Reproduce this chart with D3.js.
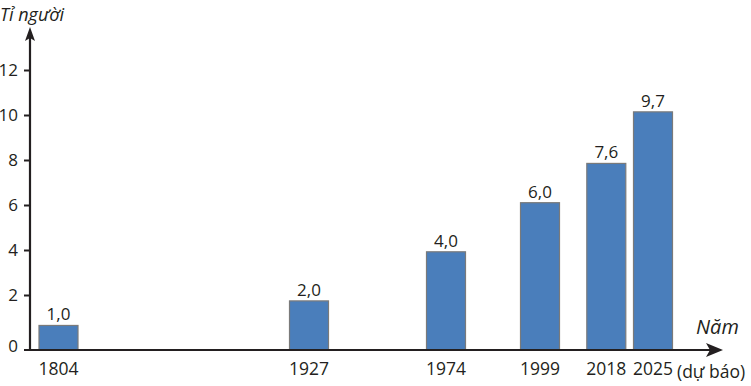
<!DOCTYPE html>
<html>
<head>
<meta charset="utf-8">
<script src="https://cdn.jsdelivr.net/npm/d3@7"></script>
<style>
  body { margin: 0; background: #fff; }
  text { font-family: "Open Sans", "Noto Sans", sans-serif; fill: #231f20; }
</style>
</head>
<body>
<div id="chart"></div>
<script>
// ---------------------- data ----------------------
var years = [1804, 1927, 1974, 1999, 2018, 2025];
var population = [1.0, 2.0, 4.0, 6.0, 7.6, 9.7];   // ti nguoi
var valueLabels = ["1,0", "2,0", "4,0", "6,0", "7,6", "9,7"];
var yTicks = [0, 2, 4, 6, 8, 10, 12];

var W = 751, H = 386;
var axisColor = "#231f20";

var svg = d3.select("#chart")
     .append("svg")
     .attr("width", W)
     .attr("height", H);

// years are not placed proportionally in the original, so piecewise scale
var x = d3.scaleLinear()
     .domain(years)
     .range([58.5, 309, 446, 540, 606.3, 653]);

// axis ticks and bars use slightly different vertical scales in the original
var yAxisScale = d3.scaleLinear().domain([0, 12]).range([340, 70]);
var yBar = d3.scaleLinear().domain([0, 10]).range([350, 104.5]);
var barW = 39;

// ---------------------- bars ----------------------
svg.selectAll("rect.bar")
     .data(population)
     .enter()
     .append("rect")
     .attr("class", "bar")
     .attr("x", function(d, i) { return x(years[i]) - barW / 2; })
     .attr("y", function(d) { return yBar(d); })
     .attr("width", barW)
     .attr("height", function(d) { return yBar(0) - yBar(d); })
     .style("fill", "#4a7ebb")
     .style("stroke", "#7a7a7a")
     .style("stroke-width", 1.2);

svg.selectAll("text.val")
     .data(population)
     .enter()
     .append("text")
     .attr("class", "val")
     .attr("x", function(d, i) { return x(years[i]); })
     .attr("y", function(d) { return yBar(d) - 5; })
     .attr("text-anchor", "middle")
     .style("font-size", "17px")
     .text(function(d, i) { return valueLabels[i]; });

// ---------------------- y axis ----------------------
var yAxis = d3.axisLeft(yAxisScale)
     .tickValues(yTicks)
     .tickSize(6)
     .tickPadding(6)
     .tickFormat(d3.format("d"));

var gy = svg.append("g")
     .attr("transform", "translate(30,0)")
     .call(yAxis);
gy.select(".domain").remove();
gy.selectAll(".tick line")
     .style("stroke", axisColor)
     .style("stroke-width", 2)
     .style("display", function(d) { return d === 0 ? "none" : null; });
gy.selectAll(".tick text")
     .style("font-size", "17px")
     .style("fill", axisColor)
     .attr("dy", function(d) { return d === 0 ? "0.65em" : "0.35em"; });

svg.append("line")
     .attr("x1", 30).attr("x2", 30)
     .attr("y1", 351).attr("y2", 36)
     .style("stroke", axisColor)
     .style("stroke-width", 2.2);

svg.append("path")
     .attr("d", "M30,27 L35,41 L30,38 L25,41 Z")
     .style("fill", axisColor);

// ---------------------- x axis ----------------------
svg.append("line")
     .attr("x1", 24).attr("x2", 712)
     .attr("y1", 350).attr("y2", 350)
     .style("stroke", axisColor)
     .style("stroke-width", 2.2);

svg.append("path")
     .attr("d", "M723,350 L706,343 L710,350 L706,357 Z")
     .style("fill", axisColor);

svg.selectAll("text.year")
     .data(years)
     .enter()
     .append("text")
     .attr("class", "year")
     .attr("x", function(d) { return x(d); })
     .attr("y", 375)
     .attr("text-anchor", "middle")
     .style("font-size", "17.5px")
     .text(function(d) { return d; });

// ---------------------- titles ----------------------
svg.append("text")
     .text("Tỉ người")
     .attr("x", 0)
     .attr("y", 21)
     .style("font-size", "18px")
     .style("font-style", "italic");

svg.append("text")
     .text("Năm")
     .attr("x", 696)
     .attr("y", 334)
     .style("font-size", "20px")
     .style("font-style", "italic");

svg.append("text")
     .text("(dự báo)")
     .attr("x", 677)
     .attr("y", 378)
     .style("font-size", "17.5px");
</script>
</body>
</html>
